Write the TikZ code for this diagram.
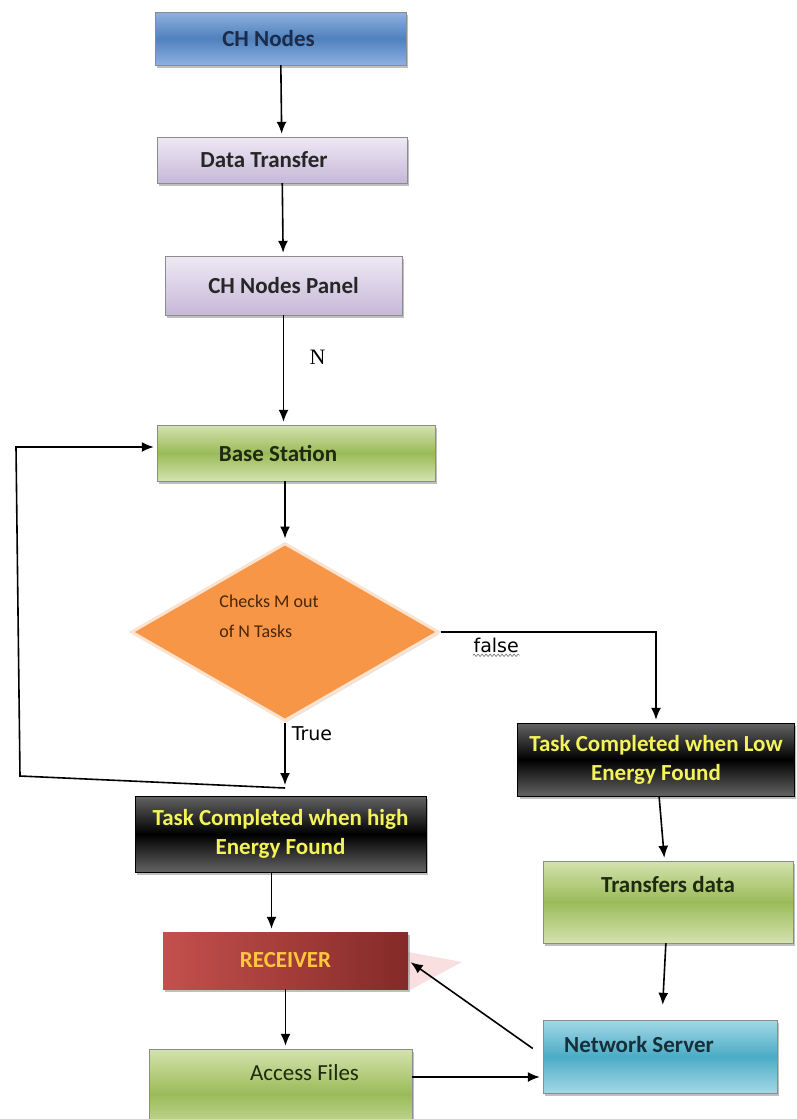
\documentclass[tikz,border=0pt]{standalone}
\usepackage{fontspec}
\setmainfont{Carlito}
\newfontfamily\serifN{Liberation Serif}
\newfontfamily\edgefont{DejaVu Sans}
\usetikzlibrary{positioning}
\usetikzlibrary{calc}
\usetikzlibrary{arrows.meta}
\usetikzlibrary{shapes}
\usetikzlibrary{shadows}
\usetikzlibrary{decorations.pathmorphing}

\definecolor{chnlight}{HTML}{8FB1E0}
\definecolor{chnmid}{HTML}{4F81BD}
\definecolor{chntext}{HTML}{1C2B4A}
\definecolor{lilalight}{HTML}{EEE9F4}
\definecolor{liladark}{HTML}{C6B8D8}
\definecolor{grnlight}{HTML}{D3E3AE}
\definecolor{grnmid}{HTML}{9BBB59}
\definecolor{grntext}{HTML}{1F2A10}
\definecolor{chkorange}{HTML}{F79646}
\definecolor{chkedge}{HTML}{FCE3CF}
\definecolor{chktext}{HTML}{4A2608}
\definecolor{blkgray}{HTML}{646464}
\definecolor{ylw}{HTML}{F4F45A}
\definecolor{rcvlight}{HTML}{C4504C}
\definecolor{rcvdark}{HTML}{842A28}
\definecolor{rcvtext}{HTML}{FFC83C}
\definecolor{rcvpink}{HTML}{F6C9CC}
\definecolor{nsvlight}{HTML}{A3D8E6}
\definecolor{nsvmid}{HTML}{4BACC6}
\definecolor{nsvtext}{HTML}{15303A}

\newcommand\flowfont{\fontsize{23}{29}\selectfont\bfseries}
\newcommand\flowplain{\fontsize{23}{29}\selectfont}

\begin{document}
\begin{tikzpicture} [
    x=1pt, y=-1pt,                  % pixel grid of the page, y going down
    ]
% -------------------------------------------------
\tikzset{
  base/.style={draw=black!45, align=center, inner sep=3pt, font=\flowfont},
  rect/.style={base, rectangle, drop shadow={shadow xshift=2pt, shadow yshift=-2.5pt, opacity=0.5}},
  shblue/.style={top color=chnlight, bottom color=chnlight, middle color=chnmid, text=chntext},
  shlila/.style={top color=lilalight, bottom color=liladark, text=black!85},
  shgreen/.style={top color=grnlight, bottom color=grnlight, middle color=grnmid, text=grntext},
  shblack/.style={top color=blkgray, bottom color=blkgray, middle color=black, text=ylw, draw=black},
  shred/.style={left color=rcvlight, right color=rcvdark, text=rcvtext, draw=none},
  shcyan/.style={top color=nsvlight, bottom color=nsvlight, middle color=nsvmid, text=nsvtext},
  shorange/.style={fill=chkorange, draw=chkedge, line width=3pt},
  line/.style={draw, line width=1.6pt, shorten >=3pt, -{Latex[length=12pt, width=10pt]}},
  edgelbl/.style={font=\edgefont\fontsize{19}{21}\selectfont, inner sep=0pt},
  squig/.style={draw=black!55, line width=0.6pt, decorate, decoration={snake, amplitude=1.2pt, segment length=4pt}}
}

    \clip (0,0) rectangle (796,1119);                                   % page frame

    \fill[rcvpink, opacity=0.6] (408,952) -- (462,962) -- (410,990) -- cycle;   % pink wedge at receiver

    \node [rect, shblue, minimum width=251, minimum height=53] (chn) at (280.5,38.5) {CH Nodes\hspace*{24pt}};
    \node [rect, shlila, minimum width=250, minimum height=46] (dtr) at (282,160) {Data Transfer\hspace*{36pt}};
    \node [rect, shlila, minimum width=237, minimum height=59] (pnl) at (283.5,285.5) {CH Nodes Panel};
    \node [rect, shgreen, minimum width=278, minimum height=56] (bst) at (296,453) {Base Station\hspace*{36pt}};

    \node [base, diamond, shorange, minimum width=308, minimum height=178, inner sep=0pt,
           drop shadow={shadow xshift=1pt, shadow yshift=-2pt, opacity=0.25},
           label={[anchor=center, xshift=-16pt, yshift=-75pt, align=left, text=chktext,
                   font=\fontsize{18}{30}\selectfont]north:{Checks M out\\of N Tasks}}] (chk) at (285,632) {};

    \node [rect, shblack, minimum width=277, minimum height=73] (low) at (656,759.5) {Task Completed when Low\\Energy Found};
    \node [rect, shblack, minimum width=291, minimum height=76] (hig) at (280.5,834) {Task Completed when high\\Energy Found};
    \node [rect, shred, minimum width=245, minimum height=57] (rcv) at (285.5,960.5) {RECEIVER};

    \node [rect, shgreen, minimum width=250, minimum height=82,
           label={[anchor=center, yshift=-24pt, font=\flowfont, text=grntext]north:Transfers data}] (tfd) at (668,902) {};
    \node [rect, shcyan, minimum width=234, minimum height=73,
           label={[anchor=center, xshift=-21pt, yshift=-25pt, font=\flowfont, text=nsvtext]north:Network Server}] (nsv) at (660,1056.5) {};
    \node [rect, shgreen, minimum width=263, minimum height=90,
           label={[anchor=center, xshift=24pt, yshift=-24pt, font=\flowplain, text=grntext]north:Access Files}] (acc) at (280.5,1094) {};

    \coordinate (tru) at (285,788);
    \coordinate (lpa) at (20,776);
    \coordinate (lpb) at (16,447);

    \path [line] (chn) -- (dtr);
    \path [line] (dtr) -- (pnl);
    \path [line] (pnl.south) -- node[pos=0.38, right=22pt, font=\serifN\fontsize{22}{24}\selectfont] {N} (pnl.south |- bst.north);
    \path [line] (bst.south -| chk.north) -- (chk.north);

    \path [line] (chk.east) -- node[pos=0.15, anchor=north west, yshift=-5pt, edgelbl] (fls) {false} (chk.east -| low.north) -- (low.north);
    \path [squig] ([yshift=-2pt]fls.south west) -- ([yshift=-2pt]fls.south east);

    \path [line] (chk.south) -- node[pos=0.17, anchor=west, xshift=6pt, edgelbl] {True} (tru);
    \path [line] (tru) -- (lpa) -- (lpb) -- (lpb -| bst.west);

    \path [line] ([xshift=-9pt]hig.south) -- ([xshift=-9pt]hig.south |- rcv.north);
    \path [line] (rcv.south) -- (rcv.south |- acc.north);

    \path [line] (low) -- (tfd);
    \path [line, shorten >=15pt] (tfd) -- (nsv);

    \path [line] ([yshift=17pt]acc.east) -- ([yshift=17pt]acc.east -| nsv.west);
    \path [line] ([xshift=-10pt, yshift=8pt]nsv.west) -- (rcv.east);

\end{tikzpicture}
\end{document}
